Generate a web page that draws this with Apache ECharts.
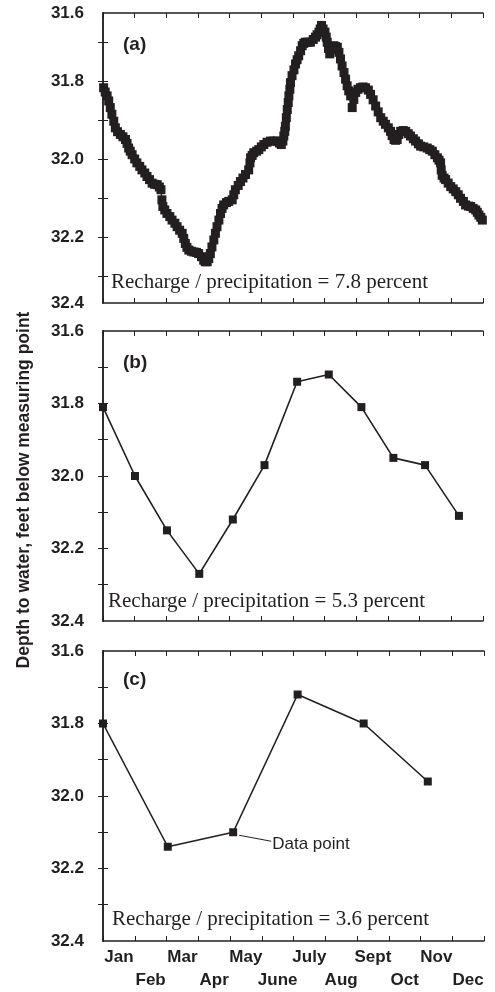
<!DOCTYPE html>
<html>
<head>
<meta charset="utf-8">
<script src="https://cdn.jsdelivr.net/npm/echarts@6/dist/echarts.min.js"></script>
<style>
  html, body { margin: 0; padding: 0; background: #fff; }
  #chart { width: 495px; height: 992px; }
</style>
</head>
<body>
<div id="chart"></div>
<script>
  // months along the bottom
  var months = ['Jan', 'Feb', 'Mar', 'Apr', 'May', 'June', 'July', 'Aug', 'Sept', 'Oct', 'Nov', 'Dec'];

  // (a) continuous record, x in months from Jan 1, depth in feet
  var aMonth = [0.02, 0.07, 0.13, 0.18, 0.23, 0.28, 0.34, 0.39, 0.46, 0.55, 0.63, 0.71, 0.76, 0.81, 0.86, 0.92,
    1.00, 1.07, 1.16, 1.23, 1.32, 1.39, 1.47, 1.55, 1.63, 1.71, 1.78, 1.83, 1.86, 1.89, 1.95,
    2.02, 2.11, 2.18, 2.27, 2.34, 2.42, 2.50, 2.55, 2.60, 2.65, 2.71, 2.79, 2.87, 2.95,
    3.02, 3.11, 3.18, 3.23, 3.29, 3.34, 3.39, 3.44, 3.50, 3.55, 3.60, 3.66, 3.71, 3.76, 3.81, 3.90, 3.97,
    4.08, 4.13, 4.18, 4.27, 4.34, 4.42, 4.50, 4.60, 4.64, 4.66, 4.71, 4.76, 4.85, 4.92,
    5.00, 5.08, 5.18, 5.29, 5.39, 5.50, 5.57, 5.63, 5.68, 5.71, 5.74, 5.76, 5.79, 5.82, 5.85, 5.87, 5.90, 5.92, 5.97,
    6.03, 6.08, 6.13, 6.18, 6.24, 6.29, 6.34, 6.39, 6.47, 6.55, 6.64, 6.71, 6.76, 6.82, 6.86, 6.90, 6.95,
    7.01, 7.05, 7.08, 7.12, 7.16, 7.23, 7.29, 7.34, 7.40, 7.45, 7.50, 7.55, 7.61, 7.66, 7.71, 7.76, 7.82, 7.87, 7.92, 7.98,
    8.05, 8.13, 8.21, 8.29, 8.38, 8.45, 8.53, 8.61, 8.69, 8.77, 8.85, 8.92,
    9.01, 9.08, 9.13, 9.19, 9.24, 9.29, 9.34, 9.40, 9.48, 9.56, 9.64, 9.71, 9.80, 9.87, 9.96,
    10.03, 10.13, 10.24, 10.32, 10.40, 10.48, 10.56, 10.61, 10.66, 10.68, 10.71, 10.77, 10.82, 10.90, 10.98,
    11.06, 11.14, 11.22, 11.29, 11.38, 11.45, 11.54, 11.61, 11.69, 11.77, 11.82, 11.87, 11.93, 11.98];
  var aDepth = [31.817, 31.828, 31.838, 31.851, 31.868, 31.885, 31.903, 31.920, 31.930, 31.937, 31.943, 31.950, 31.960, 31.972, 31.980, 31.989,
    32.000, 32.010, 32.019, 32.028, 32.036, 32.045, 32.053, 32.062, 32.065, 32.066, 32.072, 32.079, 32.105, 32.122, 32.131,
    32.140, 32.148, 32.157, 32.165, 32.174, 32.183, 32.191, 32.204, 32.217, 32.227, 32.234, 32.237, 32.239, 32.240,
    32.243, 32.251, 32.260, 32.264, 32.264, 32.256, 32.243, 32.226, 32.208, 32.191, 32.174, 32.157, 32.140, 32.127, 32.118, 32.112, 32.109,
    32.105, 32.092, 32.079, 32.068, 32.058, 32.049, 32.040, 32.028, 32.010, 31.997, 31.991, 31.984, 31.980, 31.976,
    31.969, 31.963, 31.957, 31.954, 31.954, 31.954, 31.959, 31.963, 31.954, 31.941, 31.929, 31.916, 31.894, 31.873, 31.855, 31.838, 31.821, 31.804, 31.786,
    31.771, 31.756, 31.745, 31.735, 31.722, 31.709, 31.703, 31.700, 31.700, 31.700, 31.693, 31.687, 31.681, 31.674, 31.666, 31.657, 31.666,
    31.674, 31.687, 31.700, 31.716, 31.730, 31.719, 31.709, 31.711, 31.713, 31.726, 31.743, 31.761, 31.778, 31.795, 31.812, 31.825, 31.838, 31.868, 31.847, 31.829,
    31.821, 31.817, 31.815, 31.817, 31.823, 31.834, 31.848, 31.864, 31.879, 31.894, 31.903, 31.911,
    31.920, 31.929, 31.940, 31.950, 31.952, 31.950, 31.937, 31.929, 31.927, 31.929, 31.935, 31.941, 31.948, 31.954, 31.961,
    31.967, 31.969, 31.972, 31.976, 31.980, 31.989, 31.997, 32.003, 32.010, 32.028, 32.042, 32.049, 32.053, 32.062, 32.071,
    32.077, 32.084, 32.092, 32.101, 32.109, 32.118, 32.121, 32.122, 32.127, 32.131, 32.137, 32.144, 32.150, 32.157];

  // (b) monthly measurements
  var bMonth = [0, 1.01, 2.02, 3.04, 4.10, 5.10, 6.13, 7.13, 8.16, 9.17, 10.17, 11.24];
  var bDepth = [31.81, 32.00, 32.15, 32.27, 32.12, 31.97, 31.74, 31.72, 31.81, 31.95, 31.97, 32.11];

  // (c) bimonthly measurements
  var cMonth = [0, 2.04, 4.10, 6.13, 8.21, 10.23];
  var cDepth = [31.80, 32.14, 32.10, 31.72, 31.80, 31.96];

  // y axis ticks and labels
  var yTicks = [31.7, 31.8, 31.9, 32.0, 32.1, 32.2, 32.3];
  var yLabels = ['31.6', '31.8', '32.0', '32.2', '32.4'];
  var yRanges = [[31.625, 32.37], [31.6, 32.4], [31.6, 32.4]];

  var panelNames = ['(a)', '(b)', '(c)'];
  var ratios = ['7.8', '5.3', '3.6'];

  var ink = '#231f20';
  var grids = [
    { left: 103, right: 12, top: 13, height: 290 },
    { left: 103, right: 12, top: 331, height: 290 },
    { left: 103, right: 11, top: 651, height: 291 }
  ];

  var xAxes = [], yAxes = [];
  grids.forEach(function (g, i) {
    ['bottom', 'top'].forEach(function (pos) {
      xAxes.push({
        type: 'value', gridIndex: i, position: pos, min: 0, max: 12, interval: 1,
        axisLine: { show: true, lineStyle: { color: ink, width: 1.5 } },
        axisTick: { show: true, inside: true, length: 5, lineStyle: { color: ink, width: 1 } },
        axisLabel: { show: false },
        splitLine: { show: false }
      });
    });
    var r = yRanges[i];
    var labelAt = [r[0], 31.8, 32.0, 32.2, r[1]];
    ['left', 'right'].forEach(function (pos) {
      yAxes.push({
        type: 'value', gridIndex: i, position: pos, inverse: true, min: r[0], max: r[1],
        axisLine: { show: true, lineStyle: { color: ink, width: 1.5 } },
        axisTick: { show: true, inside: true, length: 5, customValues: yTicks, lineStyle: { color: ink, width: 1 } },
        axisLabel: {
          show: pos === 'left', customValues: labelAt, margin: 19,
          color: ink, fontFamily: 'Liberation Sans', fontWeight: 'bold', fontSize: 17,
          formatter: function (v) {
            var k = labelAt.indexOf(v);
            return k >= 0 ? yLabels[k] : '';
          }
        },
        splitLine: { show: false }
      });
    });
  });

  // month names under the last panel, in two staggered rows
  xAxes.push({
    type: 'category', gridIndex: 2, position: 'bottom', data: months, boundaryGap: true,
    axisLine: { show: false }, axisTick: { show: false }, splitLine: { show: false },
    axisLabel: {
      interval: 0, margin: 5, lineHeight: 23, color: ink,
      fontFamily: 'Liberation Sans', fontWeight: 'bold', fontSize: 17,
      formatter: function (v, idx) { return idx % 2 === 0 ? v : '\n' + v; }
    }
  });

  function pairs(xs, ys) {
    return xs.map(function (x, k) { return [x, ys[k]]; });
  }

  var series = [
    { data: pairs(aMonth, aDepth), symbolSize: 9, width: 1.5 },
    { data: pairs(bMonth, bDepth), symbolSize: 8, width: 1.6 },
    { data: pairs(cMonth, cDepth), symbolSize: 8, width: 1.6 }
  ].map(function (s, i) {
    return {
      type: 'line', xAxisIndex: i * 2, yAxisIndex: i * 2, data: s.data,
      symbol: 'rect', symbolSize: s.symbolSize, showSymbol: true,
      itemStyle: { color: ink },
      lineStyle: { color: ink, width: s.width },
      silent: true
    };
  });

  var textY = [282, 601, 919];
  var textX = [111, 108, 112];
  var nameY = [45, 363, 680];
  var graphic = [{
    type: 'text', x: 24, y: 490, rotation: Math.PI / 2,
    style: {
      text: 'Depth to water, feet below measuring point', fill: ink,
      font: 'bold 17.5px "Liberation Sans"', textAlign: 'center', textVerticalAlign: 'middle'
    }
  }];
  grids.forEach(function (g, i) {
    graphic.push({
      type: 'text', x: 123, y: nameY[i],
      style: { text: panelNames[i], fill: ink, font: 'bold 19px "Liberation Sans"', textAlign: 'left', textVerticalAlign: 'middle' }
    });
    graphic.push({
      type: 'text', x: textX[i], y: textY[i],
      style: { text: 'Recharge / precipitation = ' + ratios[i] + ' percent', fill: ink, font: '21px "Liberation Serif"', textAlign: 'left', textVerticalAlign: 'middle' }
    });
  });

  var chart = echarts.init(document.getElementById('chart'));
  chart.setOption({
    animation: false,
    backgroundColor: '#fff',
    grid: grids,
    xAxis: xAxes,
    yAxis: yAxes,
    series: series,
    graphic: graphic
  });

  // "Data point" call-out tied to the May point of panel (c)
  var p = chart.convertToPixel({ seriesIndex: 2 }, [cMonth[2], cDepth[2]]);
  graphic.push({
    type: 'line', shape: { x1: p[0] + 6, y1: p[1] + 3, x2: p[0] + 38, y2: p[1] + 9 },
    style: { stroke: ink, lineWidth: 1 }
  });
  graphic.push({
    type: 'text', x: p[0] + 39, y: p[1] + 12,
    style: { text: 'Data point', fill: ink, font: '17px "Liberation Sans"', textAlign: 'left', textVerticalAlign: 'middle' }
  });
  chart.setOption({ graphic: graphic });
</script>
</body>
</html>
